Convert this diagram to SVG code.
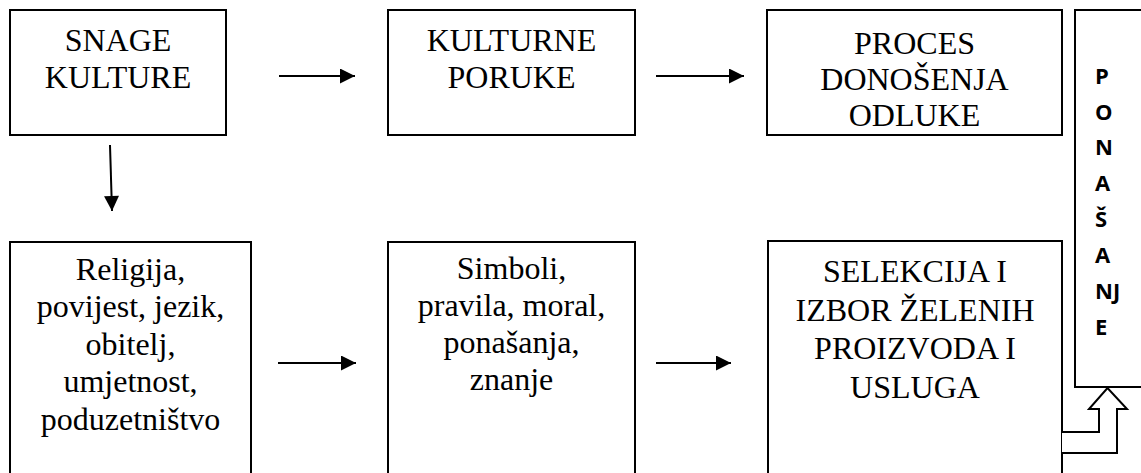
<svg xmlns="http://www.w3.org/2000/svg" width="1141" height="473" viewBox="0 0 1141 473">
<style>
.box{fill:#fff;stroke:#000;stroke-width:2}
.t{font-family:"Liberation Serif","Times New Roman",serif;font-size:32px;fill:#000;text-anchor:middle}
.b{font-family:"Open Sans","Liberation Sans",sans-serif;font-size:22px;font-weight:bold;fill:#000}
.c{stroke:#000;stroke-width:2;fill:none}
</style>
<defs>
<marker id="ah" viewBox="0 0 10 10" refX="10" refY="5" markerWidth="8" markerHeight="7.5" markerUnits="strokeWidth" orient="auto">
<path d="M0,0 L10,5 L0,10 Z" fill="#000"/>
</marker>
</defs>
<rect width="1141" height="473" fill="#fff"/>
<g id="snage-kulture">
<rect class="box" x="10" y="10" width="216" height="125"/>
<text class="t" x="118" y="51">SNAGE</text>
<text class="t" x="118" y="88">KULTURE</text>
</g>
<g id="kulturne-poruke">
<rect class="box" x="388" y="10" width="247" height="125"/>
<text class="t" x="511.5" y="51">KULTURNE</text>
<text class="t" x="511.5" y="88">PORUKE</text>
</g>
<g id="proces">
<rect class="box" x="767" y="10" width="295" height="125"/>
<text class="t" x="914.5" y="54">PROCES</text>
<text class="t" x="914.5" y="90">DONOŠENJA</text>
<text class="t" x="914.5" y="126">ODLUKE</text>
</g>
<g id="ponasanje">
<rect class="box" x="1075" y="10" width="100" height="377"/>
<text class="b" x="1095" y="84">P</text>
<text class="b" x="1095" y="120">O</text>
<text class="b" x="1095" y="155">N</text>
<text class="b" x="1095" y="191">A</text>
<text class="b" x="1095" y="227">Š</text>
<text class="b" x="1095" y="263">A</text>
<text class="b" x="1095" y="299">NJ</text>
<text class="b" x="1095" y="335">E</text>
</g>
<g id="religija">
<rect class="box" x="10" y="242" width="241" height="260"/>
<text class="t" x="130.5" y="280">Religija,</text>
<text class="t" x="130.5" y="317">povijest, jezik,</text>
<text class="t" x="130.5" y="355">obitelj,</text>
<text class="t" x="130.5" y="392">umjetnost,</text>
<text class="t" x="130.5" y="430">poduzetništvo</text>
</g>
<g id="simboli">
<rect class="box" x="388" y="242" width="247" height="260"/>
<text class="t" x="511.5" y="279">Simboli,</text>
<text class="t" x="511.5" y="316">pravila, moral,</text>
<text class="t" x="511.5" y="353">ponašanja,</text>
<text class="t" x="511.5" y="390">znanje</text>
</g>
<g id="selekcija">
<rect class="box" x="768" y="241" width="294" height="260"/>
<text class="t" x="915" y="282">SELEKCIJA I</text>
<text class="t" x="915" y="321">IZBOR ŽELENIH</text>
<text class="t" x="915" y="359">PROIZVODA I</text>
<text class="t" x="915" y="398">USLUGA</text>
</g>
<g id="connectors">
<line class="c" x1="279" y1="76" x2="355" y2="76" marker-end="url(#ah)"/>
<line class="c" x1="656" y1="76" x2="744" y2="76" marker-end="url(#ah)"/>
<line class="c" x1="278" y1="363" x2="356" y2="363" marker-end="url(#ah)"/>
<line class="c" x1="656" y1="363" x2="731" y2="363" marker-end="url(#ah)"/>
<line class="c" x1="110" y1="145" x2="112" y2="211" marker-end="url(#ah)"/>
<path class="box" d="M1062,432 L1099,432 L1099,409 L1089,409 L1107.5,388 L1127,409 L1117,409 L1117,453 L1062,453"/>
</g>
</svg>
